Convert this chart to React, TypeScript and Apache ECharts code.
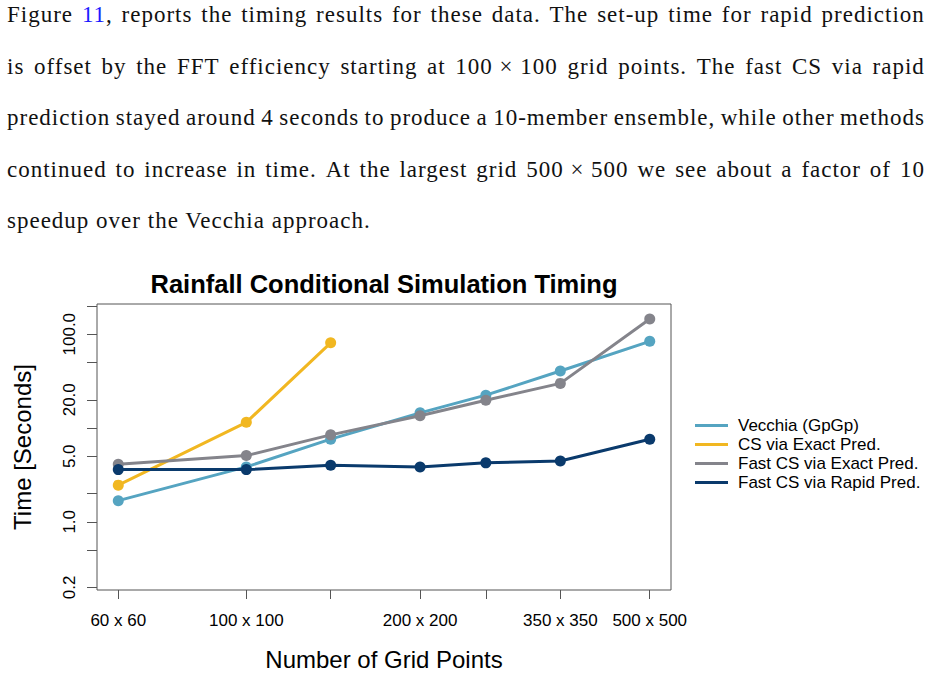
import React, { useEffect, useRef } from "react";
import * as echarts from "echarts";

// ---- data ----
const gridSizes = [60, 100, 140, 200, 260, 350, 500];
const labeledSizes = [60, 100, 200, 350, 500];
const vecchia = [1.68, 3.85, 7.6, 14.5, 22.4, 40.5, 84];
const csExact = [2.46, 11.5, 81];
const fastExact = [4.1, 5.08, 8.45, 13.5, 19.8, 29.9, 145];
const fastRapid = [3.6, 3.6, 4.0, 3.85, 4.25, 4.45, 7.6];
const yTicks = [0.2, 0.5, 1, 2, 5, 10, 20, 50, 100, 200];
const yLabels = [0.2, 1, 5, 20, 100];
const seriesNames = [
  "Vecchia (GpGp)",
  "CS via Exact Pred.",
  "Fast CS via Exact Pred.",
  "Fast CS via Rapid Pred.",
];
const seriesValues = [vecchia, csExact, fastExact, fastRapid];
const seriesColors = ["#55A4C1", "#F1B721", "#84848B", "#0A3A6C"];

const paragraphLines = [
  "Figure 11, reports the timing results for these data. The set-up time for rapid prediction",
  "is offset by the FFT efficiency starting at 100 \u00d7 100 grid points. The fast CS via rapid",
  "prediction stayed around 4 seconds to produce a 10-member ensemble, while other methods",
  "continued to increase in time. At the largest grid 500 \u00d7 500 we see about a factor of 10",
  "speedup over the Vecchia approach.",
];
const lineTops = [2, 53.5, 105, 156.5, 208];

const FONT = "'Liberation Sans', Arial, Helvetica, sans-serif";
const lg = (v: number) => Math.log10(v);

// split a line into justification units, keeping "a × b" together
function tokens(line: string): string[] {
  const parts = line.split(" ");
  const out: string[] = [];
  for (let i = 0; i < parts.length; i++) {
    if (parts[i + 1] === "\u00d7" && i + 2 < parts.length) {
      out.push(parts[i] + " \u00d7 " + parts[i + 2]);
      i += 2;
    } else out.push(parts[i]);
  }
  return out;
}

function renderWord(word: string, key: number) {
  if (word.startsWith("11,")) {
    return (
      <span key={key}>
        <span style={{ color: "#1a1aff" }}>11</span>
        {word.slice(2)}
      </span>
    );
  }
  return (
    <span key={key} style={{ whiteSpace: "pre" }}>
      {word}
    </span>
  );
}

function Paragraph() {
  return (
    <>
      {paragraphLines.map((line, i) => {
        const isLast = i === paragraphLines.length - 1;
        const common: React.CSSProperties = {
          position: "absolute",
          left: 7,
          top: lineTops[i],
          width: 918,
          fontFamily: "'Liberation Serif', 'Times New Roman', serif",
          fontSize: 23,
          lineHeight: "26px",
          letterSpacing: "1px",
          color: "#111",
          whiteSpace: "nowrap",
          zIndex: 2,
        };
        if (isLast) {
          return (
            <div key={i} style={common}>
              {line}
            </div>
          );
        }
        return (
          <div
            key={i}
            style={{ ...common, display: "flex", justifyContent: "space-between" }}
          >
            {tokens(line).map((w, k) => renderWord(w, k))}
          </div>
        );
      })}
    </>
  );
}

export default function App() {
  const ref = useRef<HTMLDivElement>(null);

  useEffect(() => {
    if (!ref.current) return;
    const chart = echarts.init(ref.current, undefined, { renderer: "svg" });

    const series = seriesValues.map((vals, si) => ({
      name: seriesNames[si],
      type: "line",
      data: vals.map((v, i) => [lg(gridSizes[i]), lg(v)]),
      symbol: "circle",
      symbolSize: 11,
      showSymbol: true,
      color: seriesColors[si],
      lineStyle: { width: 3, color: seriesColors[si] },
      itemStyle: { color: seriesColors[si] },
      emphasis: { disabled: true },
      z: 2 + si,
    }));

    chart.setOption({
      animation: false,
      title: {
        text: "Rainfall Conditional Simulation Timing",
        left: 379,
        top: 266,
        textAlign: "center",
        textStyle: {
          fontFamily: FONT,
          fontWeight: "bold",
          fontSize: 25.5,
          color: "#000",
        },
      },
      grid: {
        left: 97,
        top: 304,
        right: 262,
        bottom: 85,
        show: true,
        borderColor: "#555",
        borderWidth: 1,
        backgroundColor: "transparent",
      },
      legend: {
        orient: "vertical",
        left: 690,
        top: 411,
        icon: "rect",
        itemWidth: 33,
        itemHeight: 3,
        itemGap: 0,
        data: seriesNames,
        textStyle: {
          fontFamily: FONT,
          fontSize: 17,
          color: "#000",
          lineHeight: 19,
          padding: [0, 0, 0, 5],
        },
      },
      xAxis: {
        type: "value",
        min: 1.7413,
        max: 2.7358,
        splitLine: { show: false },
        axisLine: { show: false, onZero: false },
        axisTick: {
          show: true,
          length: 9,
          customValues: gridSizes.map(lg),
          lineStyle: { color: "#555", width: 1 },
        },
        axisLabel: {
          customValues: labeledSizes.map(lg),
          formatter: (v: number) => {
            const n = Math.round(Math.pow(10, v));
            return `${n} x ${n}`;
          },
          margin: 22,
          fontFamily: FONT,
          fontSize: 17,
          color: "#000",
        },
        name: "Number of Grid Points",
        nameLocation: "middle",
        nameGap: 57,
        nameTextStyle: { fontFamily: FONT, fontSize: 24, color: "#000" },
      },
      yAxis: {
        type: "value",
        min: -0.727,
        max: 2.322,
        splitLine: { show: false },
        axisLine: { show: false, onZero: false },
        axisTick: {
          show: true,
          length: 10,
          customValues: yTicks.map(lg),
          lineStyle: { color: "#555", width: 1 },
        },
        axisLabel: {
          customValues: yLabels.map(lg),
          formatter: (v: number) => Math.pow(10, v).toFixed(1),
          rotate: 90,
          margin: 19,
          fontFamily: FONT,
          fontSize: 17,
          color: "#000",
        },
        name: "Time [Seconds]",
        nameLocation: "middle",
        nameGap: 63,
        nameTextStyle: { fontFamily: FONT, fontSize: 24, color: "#000" },
      },
      series,
    });

    return () => chart.dispose();
  }, []);

  return (
    <div
      style={{
        position: "absolute",
        left: 0,
        top: 0,
        width: 933,
        height: 675,
        background: "#fff",
        overflow: "hidden",
      }}
    >
      <Paragraph />
      <div
        ref={ref}
        style={{ position: "absolute", left: 0, top: 0, width: 933, height: 675, zIndex: 1 }}
      />
    </div>
  );
}
